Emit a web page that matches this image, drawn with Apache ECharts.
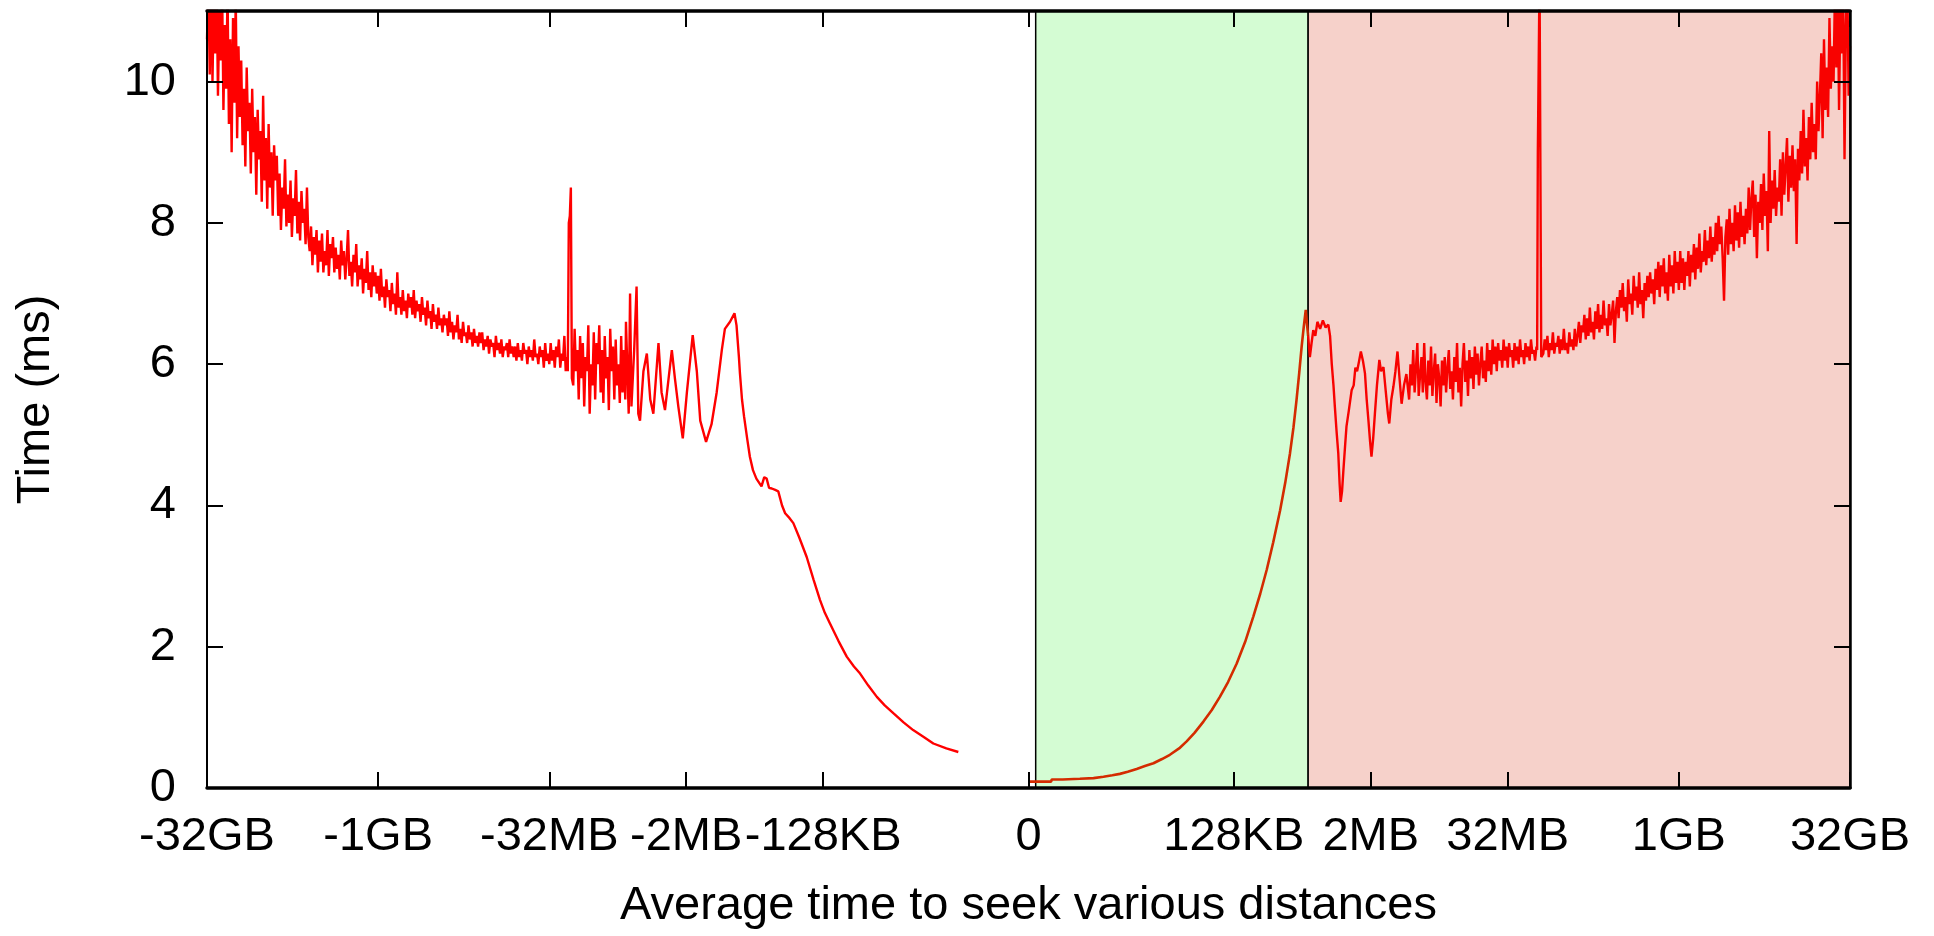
<!DOCTYPE html>
<html>
<head>
<meta charset="utf-8">
<title>Average time to seek various distances</title>
<script src="https://cdn.jsdelivr.net/npm/echarts@6/dist/echarts.min.js"></script>
<style>
  html, body { margin: 0; padding: 0; background: #fff; }
  #chart { width: 1934px; height: 936px; }
</style>
</head>
<body>
<div id="chart"></div>
<script>
// Seek distance axis: signed log2 of the distance, offset so that 2KB sits at 0.
const xTickValues = [-24, -19, -14, -10, -6, 0, 6, 10, 14, 19, 24];
const xTickLabels = ['-32GB', '-1GB', '-32MB', '-2MB', '-128KB', '0', '128KB', '2MB', '32MB', '1GB', '32GB'];
const yTickValues = [0, 2, 4, 6, 8, 10];
const xRange = [-24, 24];
const yRange = [0, 11];

// Shaded distance bands (axis units).
const nearBand = [0.21, 8.17];
const farBand = [8.17, 24];

// Sampling step of the densely measured stretches.
const SAMPLE_STEP = 0.04;

// Backward seeks, -32GB up to just before the spike (one value per sample from -24).
const backwardFarTimes = [
  10.6, 11.4, 10.1, 11.6, 10.0, 11.2, 10.4, 11.5, 9.8, 11.0, 10.3, 11.4, 9.6, 10.8, 9.9, 11.3, 9.4, 10.6, 9.0, 10.9, 9.7, 11.2, 9.2, 10.5, 9.5,
  10.3, 9.1, 9.9, 8.8, 10.2, 9.3, 9.7, 8.7, 9.9, 9.0, 9.5, 8.4, 9.6, 8.9, 9.3, 8.3, 9.8, 8.6, 9.2, 8.2, 9.4, 8.5, 9.0, 8.1, 9.1,
  8.6, 8.95, 8.1, 8.7, 7.9, 8.5, 8.2, 8.9, 7.95, 8.4, 8.0, 8.6, 7.8, 8.35, 8.1, 8.75, 7.85, 8.3, 7.75, 8.45, 8.0, 8.2, 7.7, 8.5, 7.8,
  7.6, 7.95, 7.4, 7.8, 7.55, 7.9, 7.3, 7.75, 7.45, 7.85, 7.3, 7.6, 7.4, 7.9, 7.25, 7.7, 7.5, 7.8, 7.3, 7.65, 7.35, 7.55, 7.2, 7.75, 7.4,
  7.6, 7.2, 7.5, 7.9, 7.25, 7.45, 7.1, 7.55, 7.3, 7.7, 7.1, 7.4, 7.2, 7.5, 7.0, 7.35, 7.15, 7.6, 7.05, 7.3, 6.95, 7.4, 7.1, 7.3, 7.0,
  7.25, 6.9, 7.35, 6.95, 7.1, 6.8, 7.2, 6.95, 7.05, 6.75, 7.15, 6.85, 7.0, 6.7, 7.3, 6.8, 6.95, 6.7, 7.05, 6.75, 6.9, 6.65, 7.0, 6.8, 6.95,
  6.7, 7.05, 6.65, 6.9, 6.75, 6.85, 6.6, 6.95, 6.7, 6.8, 6.55, 6.9, 6.65, 6.75, 6.5, 6.85, 6.6, 6.7, 6.5, 6.8, 6.55, 6.65, 6.45, 6.7, 6.55,
  6.65, 6.4, 6.75, 6.45, 6.6, 6.35, 6.55, 6.45, 6.7, 6.35, 6.5, 6.3, 6.6, 6.4, 6.45, 6.3, 6.55, 6.35, 6.45, 6.25, 6.5, 6.3, 6.4, 6.25, 6.45,
  6.3, 6.45, 6.2, 6.35, 6.25, 6.4, 6.15, 6.35, 6.25, 6.3, 6.1, 6.4, 6.2, 6.3, 6.15, 6.35, 6.1, 6.25, 6.2, 6.3, 6.1, 6.35, 6.15, 6.25, 6.1,
  6.25, 6.05, 6.3, 6.1, 6.2, 6.05, 6.3, 6.15, 6.2, 6.0, 6.25, 6.1, 6.2, 6.05, 6.35, 6.1, 6.15, 6.0, 6.25, 6.1, 6.2, 5.95, 6.3, 6.05, 6.15,
  6.0, 6.3, 6.05, 6.2, 5.95, 6.25, 6.1, 6.35, 5.95, 6.15, 6.05, 6.4, 5.9, 6.1
];
const backwardSpike = [[-13.46, 5.9], [-13.43, 8.0], [-13.40, 8.1], [-13.37, 8.5], [-13.34, 5.8]];
// Backward seeks after the spike (one value per sample from -13.30).
const backwardMidTimes = [
  5.7, 6.5, 5.9, 6.2, 5.5, 6.4, 5.8, 6.3, 5.4, 6.1, 5.9, 6.55, 5.3, 6.0, 5.7, 6.45, 5.5, 6.3, 6.0, 6.55,
  5.6, 6.2, 5.45, 6.4, 5.8, 6.1, 5.35, 6.5, 5.9, 6.25, 5.5, 6.35, 5.7, 6.0, 5.45, 6.4, 5.6, 6.2, 5.5
];
// Backward seeks, -2MB region down to the shortest distance: [distance, time ms]
const backwardNear = [
  [-11.76,6.6],[-11.68,5.3],[-11.64,7.0],[-11.60,5.4],[-11.52,6.2],[-11.45,7.1],[-11.40,5.3],[-11.35,5.2],
  [-11.25,5.9],[-11.15,6.15],[-11.05,5.5],[-10.96,5.3],[-10.81,6.3],[-10.72,5.6],[-10.62,5.35],[-10.42,6.2],
  [-10.33,5.8],[-10.23,5.4],[-10.10,4.95],[-9.98,5.6],[-9.81,6.41],[-9.69,5.9],[-9.59,5.2],[-9.42,4.9],
  [-9.26,5.15],[-9.11,5.6],[-8.96,6.2],[-8.87,6.5],[-8.72,6.6],[-8.59,6.72],[-8.53,6.55],[-8.46,6.1],
  [-8.43,5.87],[-8.37,5.5],[-8.31,5.26],[-8.22,4.95],[-8.14,4.69],[-8.05,4.5],[-7.95,4.38],[-7.80,4.27],
  [-7.72,4.4],[-7.65,4.38],[-7.58,4.25],[-7.50,4.24],[-7.40,4.22],[-7.31,4.2],[-7.20,4.0],[-7.11,3.89],
  [-6.98,3.82],[-6.87,3.75],[-6.70,3.55],[-6.48,3.27],[-6.28,2.95],[-6.09,2.66],[-5.95,2.48],[-5.80,2.33],
  [-5.55,2.08],[-5.31,1.86],[-5.10,1.72],[-4.92,1.62],[-4.68,1.45],[-4.43,1.29],[-4.20,1.17],[-3.95,1.06],
  [-3.65,0.93],[-3.37,0.82],[-3.05,0.72],[-2.78,0.63],[-2.40,0.56],[-2.05,0.51]
];

// Short forward seeks (green band): [distance, time ms]
const nearSeek = [
  [0.04,0.09],[0.30,0.09],[0.66,0.09],[0.68,0.12],[1.00,0.12],[1.50,0.13],[1.90,0.14],[2.19,0.16],
  [2.45,0.18],[2.67,0.20],[2.90,0.23],[3.16,0.27],[3.40,0.31],[3.65,0.35],[3.90,0.41],[4.13,0.47],
  [4.40,0.56],[4.62,0.66],[4.85,0.78],[5.11,0.94],[5.35,1.10],[5.59,1.29],[5.83,1.50],[6.08,1.76],
  [6.33,2.07],[6.57,2.43],[6.77,2.75],[6.96,3.09],[7.15,3.48],[7.35,3.93],[7.50,4.32],[7.64,4.74],
  [7.74,5.10],[7.83,5.49],[7.91,5.88],[7.98,6.25],[8.04,6.52],[8.10,6.77],[8.14,6.55],[8.17,6.40]
];

// Long forward seeks (red band), just past the boundary: [distance, time ms]
const forwardNear = [
  [8.17,6.40],[8.22,6.1],[8.27,6.3],[8.32,6.48],[8.38,6.4],[8.44,6.6],[8.52,6.5],[8.60,6.62],
  [8.68,6.52],[8.76,6.56],[8.81,6.4],[8.86,6.0],[8.91,5.7],[8.95,5.4],[9.00,5.05],[9.05,4.74],
  [9.09,4.3],[9.12,4.05],[9.16,4.2],[9.20,4.5],[9.25,4.85],[9.29,5.12],[9.36,5.35],[9.44,5.63],
  [9.50,5.7],[9.55,5.95],[9.60,5.9],[9.66,6.05],[9.71,6.18],[9.77,6.05],[9.83,5.87],[9.88,5.5],
  [9.93,5.21],[9.98,4.9],[10.02,4.69],[10.07,4.95],[10.12,5.3],[10.18,5.7],[10.25,6.06],[10.30,5.9],
  [10.37,5.96],[10.44,5.6],[10.50,5.3],[10.54,5.16],[10.60,5.5],[10.66,5.68],[10.72,5.9],[10.78,6.18],
  [10.84,5.8],[10.90,5.44],[10.97,5.7],[11.04,5.86]
];
// Forward seeks, one value per sample from 11.12 up to the spike.
const forwardMidTimes = [
  5.5, 6.0, 5.7, 6.2, 5.6, 5.95, 6.3, 5.55, 5.85, 6.1, 5.6, 6.3, 5.75, 5.5, 6.05, 5.7, 6.25, 5.55, 5.9, 6.15, 5.45, 6.0, 5.8, 5.4, 6.05,
  5.7, 6.1, 5.6, 5.95, 6.2, 5.65, 5.9, 5.5, 6.1, 5.75, 6.3, 5.6, 5.95, 5.4, 6.0, 6.3, 5.75, 6.05, 5.55, 6.2, 5.8, 6.1, 5.65, 6.25, 5.85,
  6.15, 5.7, 6.0, 6.25, 5.8, 6.05, 5.75, 6.3, 5.9, 6.2, 5.85, 6.35, 6.0, 6.25, 5.9, 6.3, 6.05, 6.2, 5.95, 6.35, 6.05, 6.25, 5.95, 6.3, 6.1,
  6.2, 5.95, 6.3, 6.05, 6.25, 6.0, 6.35, 6.1, 6.2, 6.0, 6.3, 6.1, 6.25, 6.05, 6.35, 6.15, 6.2, 6.05, 6.25
];
const forwardSpike = [[14.86, 6.2], [14.88, 9.0], [14.91, 9.0], [14.93, 11.5], [14.96, 11.5], [14.98, 6.1]];
// Forward seeks, one value per sample from 15.04 to 32GB.
const forwardFarTimes = [
  6.15, 6.35, 6.2, 6.4, 6.1, 6.3, 6.2, 6.45, 6.15, 6.3, 6.25, 6.4, 6.15, 6.35, 6.2, 6.5, 6.2, 6.3, 6.15, 6.45, 6.25, 6.35, 6.2, 6.5, 6.25,
  6.4, 6.6, 6.3, 6.55, 6.45, 6.7, 6.35, 6.65, 6.4, 6.8, 6.45, 6.6, 6.35, 6.75, 6.5, 6.85, 6.45, 6.7, 6.5, 6.9, 6.55, 6.65, 6.4, 6.85, 6.55,
  6.7, 6.9, 6.3, 6.75, 6.95, 6.65, 7.05, 6.8, 7.15, 6.75, 6.95, 6.6, 7.2, 6.85, 7.0, 6.7, 7.25, 6.9, 7.1, 6.8, 7.3, 6.85, 7.05, 6.65, 7.15,
  6.9, 7.25, 6.95, 7.3, 7.0, 7.2, 6.85, 7.35, 7.05, 7.45, 6.95, 7.4, 7.1, 7.5, 7.0, 7.3, 6.9, 7.55, 7.1, 7.4, 7.0, 7.6, 7.15, 7.45, 7.05,
  7.6, 7.15, 7.5, 7.05, 7.45, 7.25, 7.6, 7.1, 7.55, 7.3, 7.7, 7.2, 7.65, 7.35, 7.85, 7.3, 7.6, 7.45, 7.9, 7.4, 7.75, 7.5, 7.95, 7.45, 7.8,
  7.55, 8.0, 7.6, 8.1, 7.7, 7.95, 7.5, 6.9, 7.8, 8.05, 7.55, 8.2, 7.7, 8.0, 7.6, 8.25, 7.75, 8.15, 7.65, 8.3, 7.8, 8.1, 7.7, 8.2, 7.85,
  8.5, 7.9, 8.35, 8.6, 7.8, 8.4, 7.5, 8.3, 8.0, 8.55, 7.9, 8.7, 8.1, 8.45, 7.6, 9.3, 8.0, 8.6, 8.2, 8.75, 8.1, 8.5, 8.3, 8.9, 8.1,
  9.0, 8.4, 8.8, 9.2, 8.3, 8.95, 8.5, 9.1, 8.45, 8.9, 7.7, 9.05, 8.6, 9.3, 8.7, 9.6, 8.8, 9.2, 8.6, 9.5, 8.9, 9.7, 9.0, 9.4, 8.9,
  10.0, 9.3, 9.8, 10.4, 9.2, 10.6, 9.6, 10.2, 9.5, 10.9, 9.9, 10.5, 10.0, 11.3, 10.2, 11.5, 9.6, 11.1, 10.4, 11.4, 8.9, 10.8, 11.5, 9.8, 10.5
];

// Pair evenly sampled times with their distances.
function sampled(start, times) {
  return times.map((t, i) => [Math.round((start + i * SAMPLE_STEP) * 100) / 100, t]);
}

const backwardSeek = [].concat(
  sampled(-24.00, backwardFarTimes),
  backwardSpike,
  sampled(-13.30, backwardMidTimes),
  backwardNear
);
const farSeek = [].concat(
  forwardNear,
  sampled(11.12, forwardMidTimes),
  forwardSpike,
  sampled(15.04, forwardFarTimes)
);

const FONT = "'Liberation Sans', Arial, Helvetica, sans-serif";
const FONT_SIZE = 47;

function tickLabel(v) {
  const i = xTickValues.findIndex(t => Math.abs(t - v) < 1e-9);
  return i >= 0 ? xTickLabels[i] : '';
}

const frameLine = (w) => ({ show: true, onZero: false, lineStyle: { color: '#000', width: w } });
const innerTicks = (vals) => ({ show: true, inside: true, length: 16, customValues: vals, lineStyle: { color: '#000', width: 2 } });

const chart = echarts.init(document.getElementById('chart'), null, { renderer: 'canvas' });

chart.setOption({
  animation: false,
  backgroundColor: '#ffffff',
  textStyle: { fontFamily: FONT },
  grid: { left: 207, right: 84, top: 11, bottom: 148, show: false },
  xAxis: [
    {
      type: 'value', position: 'bottom', min: xRange[0], max: xRange[1], z: 5,
      axisLine: frameLine(3.5),
      axisTick: innerTicks(xTickValues),
      axisLabel: { customValues: xTickValues, formatter: tickLabel, color: '#000', fontSize: FONT_SIZE, fontFamily: FONT, margin: 26 },
      splitLine: { show: false },
      name: 'Average time to seek various distances',
      nameLocation: 'middle', nameGap: 95,
      nameTextStyle: { color: '#000', fontSize: FONT_SIZE, fontFamily: FONT }
    },
    {
      type: 'value', position: 'top', min: xRange[0], max: xRange[1], z: 5,
      axisLine: frameLine(3.5),
      axisTick: innerTicks(xTickValues),
      axisLabel: { show: false },
      splitLine: { show: false }
    }
  ],
  yAxis: [
    {
      type: 'value', position: 'left', min: yRange[0], max: yRange[1], z: 5,
      axisLine: frameLine(2),
      axisTick: innerTicks(yTickValues),
      axisLabel: { customValues: yTickValues, color: '#000', fontSize: FONT_SIZE, fontFamily: FONT, margin: 31 },
      splitLine: { show: false },
      name: 'Time (ms)', nameLocation: 'middle', nameGap: 147, nameRotate: 90,
      nameTextStyle: { color: '#000', fontSize: FONT_SIZE, fontFamily: FONT }
    },
    {
      type: 'value', position: 'right', min: yRange[0], max: yRange[1], z: 5,
      axisLine: frameLine(2.5),
      axisTick: innerTicks(yTickValues),
      axisLabel: { show: false },
      splitLine: { show: false }
    }
  ],
  series: [
    {
      name: 'backward', type: 'line', data: backwardSeek,
      xAxisIndex: 0, yAxisIndex: 0, symbol: 'none', z: 3,
      lineStyle: { color: '#ff0000', width: 2.4 }, emphasis: { disabled: true }
    },
    {
      name: 'near', type: 'line', data: nearSeek,
      xAxisIndex: 0, yAxisIndex: 0, symbol: 'none', z: 3,
      lineStyle: { color: '#d42b00', width: 2.6 }, emphasis: { disabled: true },
      markArea: {
        silent: true,
        label: { show: false },
        data: [
          [
            { xAxis: nearBand[0], yAxis: yRange[0], itemStyle: { color: '#d4fcd3', borderColor: '#000', borderWidth: 1.5 } },
            { xAxis: nearBand[1], yAxis: yRange[1] }
          ],
          [
            { xAxis: farBand[0], yAxis: yRange[0], itemStyle: { color: '#f6d1ca', borderColor: '#000', borderWidth: 1.5 } },
            { xAxis: farBand[1], yAxis: yRange[1] }
          ]
        ]
      }
    },
    {
      name: 'far', type: 'line', data: farSeek,
      xAxisIndex: 0, yAxisIndex: 0, symbol: 'none', z: 3,
      lineStyle: { color: '#f80200', width: 2.4 }, emphasis: { disabled: true }
    }
  ]
});
</script>
</body>
</html>
